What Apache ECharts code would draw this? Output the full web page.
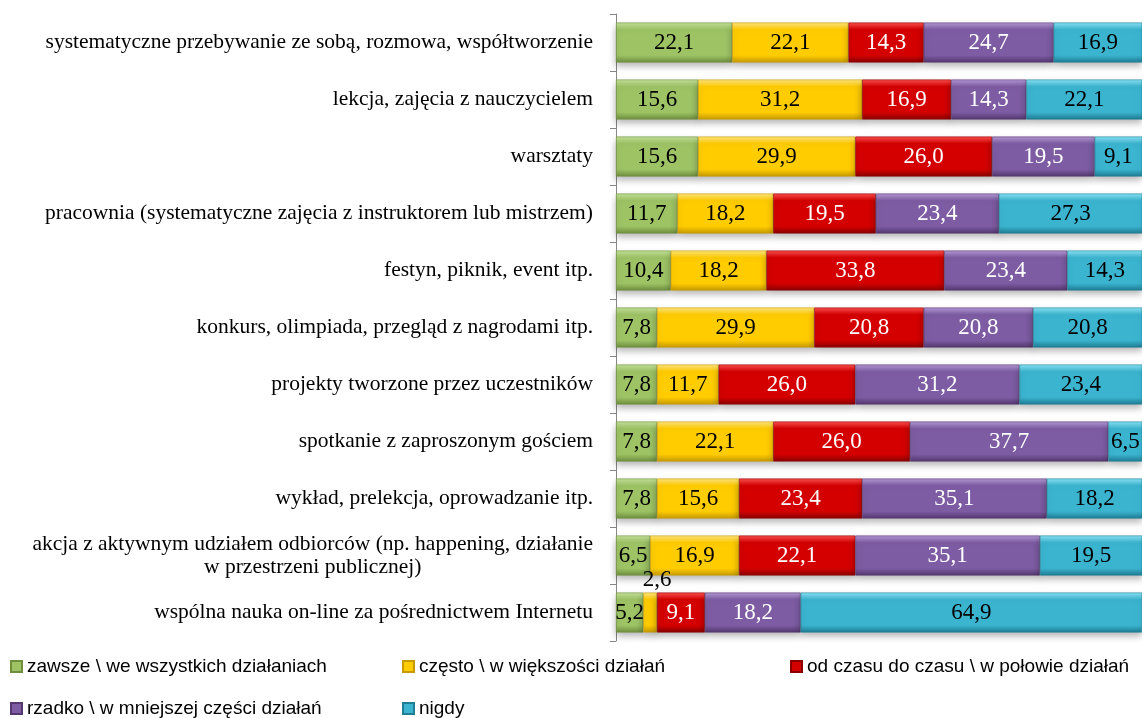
<!DOCTYPE html>
<html>
<head>
<meta charset="utf-8">
<script src="https://cdn.jsdelivr.net/npm/echarts@6/dist/echarts.min.js"></script>
<style>
html,body{margin:0;padding:0;background:#fff;}
#chart{width:1142px;height:718px;}
</style>
</head>
<body>
<div id="chart"></div>
<script>
const categories = [
  'systematyczne przebywanie ze sobą, rozmowa, współtworzenie',
  'lekcja, zajęcia z nauczycielem',
  'warsztaty',
  'pracownia (systematyczne zajęcia z instruktorem lub mistrzem)',
  'festyn, piknik, event itp.',
  'konkurs, olimpiada, przegląd z nagrodami itp.',
  'projekty tworzone przez uczestników',
  'spotkanie z zaproszonym gościem',
  'wykład, prelekcja, oprowadzanie itp.',
  'akcja z aktywnym udziałem odbiorców (np. happening, działanie\nw przestrzeni publicznej)',
  'wspólna nauka on-line za pośrednictwem Internetu'
];
const seriesNames = [
  'zawsze \\ we wszystkich działaniach',
  'często \\ w większości działań',
  'od czasu do czasu \\ w połowie działań',
  'rzadko \\ w mniejszej części działań',
  'nigdy'
];
const zawsze = [22.1, 15.6, 15.6, 11.7, 10.4, 7.8, 7.8, 7.8, 7.8, 6.5, 5.2];
const czesto = [22.1, 31.2, 29.9, 18.2, 18.2, 29.9, 11.7, 22.1, 15.6, 16.9, 2.6];
const odCzasu = [14.3, 16.9, 26.0, 19.5, 33.8, 20.8, 26.0, 26.0, 23.4, 22.1, 9.1];
const rzadko = [24.7, 14.3, 19.5, 23.4, 23.4, 20.8, 31.2, 37.7, 35.1, 35.1, 18.2];
const nigdy = [16.9, 22.1, 9.1, 27.3, 14.3, 20.8, 23.4, 6.5, 18.2, 19.5, 64.9];
const values = [zawsze, czesto, odCzasu, rzadko, nigdy];

const palette = [
  {light:'#c4e29a', base:'#9dc365', dark:'#6f8f3e', text:'#000'},
  {light:'#ffe680', base:'#ffcc00', dark:'#c79a00', text:'#000'},
  {light:'#ff5050', base:'#d40000', dark:'#8a0000', text:'#fff'},
  {light:'#b59ad6', base:'#7d5ca3', dark:'#55386f', text:'#fff'},
  {light:'#8ae4f6', base:'#3bb4d0', dark:'#1f7d94', text:'#000'}
];

function grad(p){
  return new echarts.graphic.LinearGradient(0,0,0,1,[
    {offset:0, color:p.light},
    {offset:0.18, color:p.base},
    {offset:0.82, color:p.base},
    {offset:1, color:p.dark}
  ]);
}
const fmt = v => Number(v).toFixed(1).replace('.', ',');

const series = values.map((arr, si) => ({
  name: seriesNames[si],
  type: 'bar',
  stack: 'total',
  barCategoryGap: '30%',
  data: arr.map((v, i) => {
    const item = {value: v};
    if (si === 1 && i === 10) {
      item.label = {position: 'top', distance: 1, offset: [7, 0], color: '#000'};
    }
    return item;
  }),
  itemStyle: {
    color: grad(palette[si]),
    borderColor: palette[si].dark,
    borderWidth: 0.6,
    shadowColor: 'rgba(0,0,0,0.3)',
    shadowBlur: 7,
    shadowOffsetY: 4
  },
  label: {
    show: true,
    position: 'inside',
    formatter: p => fmt(p.value),
    fontFamily: '"Liberation Serif", "DejaVu Serif", serif',
    fontSize: 23,
    color: palette[si].text
  }
}));

const legendPos = [
  {left: 10, top: 657},
  {left: 402, top: 657},
  {left: 790, top: 657},
  {left: 10, top: 699},
  {left: 402, top: 699}
];
const legends = seriesNames.map((n, i) => ({
  data: [n],
  left: legendPos[i].left,
  top: legendPos[i].top,
  padding: 0,
  icon: 'rect',
  itemWidth: 11,
  itemHeight: 11,
  selectedMode: false,
  textStyle: {fontFamily: '"Liberation Sans", Arial, sans-serif', fontSize: 19, color: '#000'}
}));

const chart = echarts.init(document.getElementById('chart'), null, {renderer: 'canvas'});
chart.setOption({
  animation: false,
  backgroundColor: '#fff',
  grid: {left: 616, right: 0, top: 14, bottom: 77, containLabel: false},
  legend: legends,
  xAxis: {type: 'value', min: 0, max: 100, show: false},
  yAxis: {
    type: 'category',
    inverse: true,
    data: categories,
    axisLine: {show: true, lineStyle: {color: '#868686', width: 1}},
    axisTick: {show: true, length: 6, lineStyle: {color: '#868686'}},
    splitLine: {show: false},
    axisLabel: {
      margin: 23,
      formatter: v => v.split('\n').map(s => '{c|' + s + '}').join('\n'),
      rich: {
        c: {
          align: 'center',
          fontFamily: '"Liberation Serif", "DejaVu Serif", serif',
          fontSize: 21.5,
          color: '#000',
          lineHeight: 23
        }
      }
    }
  },
  series: series
});
</script>
</body>
</html>
